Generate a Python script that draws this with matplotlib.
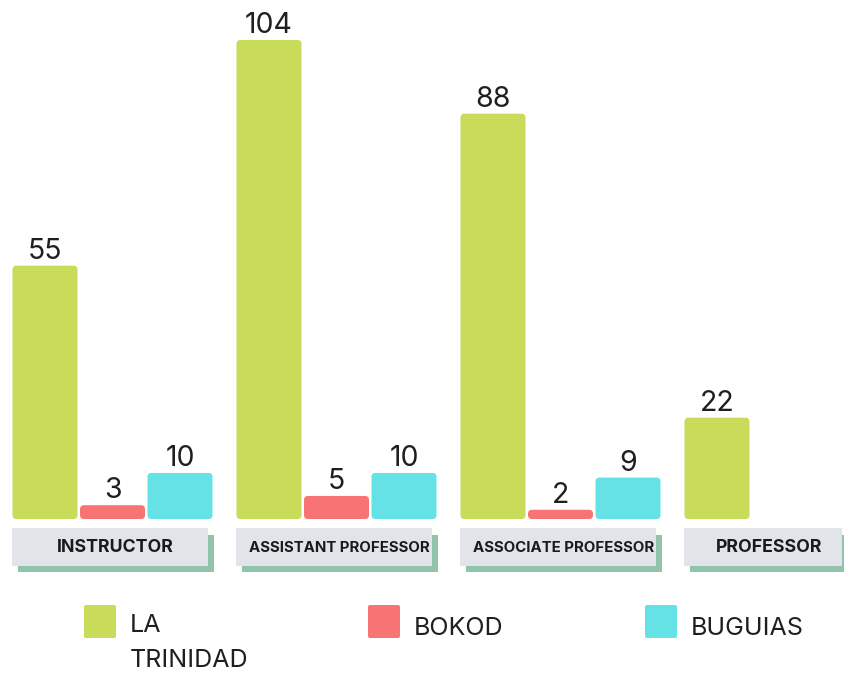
import matplotlib.pyplot as plt
from matplotlib.patches import FancyBboxPatch, Rectangle

categories = ['INSTRUCTOR', 'ASSISTANT PROFESSOR', 'ASSOCIATE PROFESSOR', 'PROFESSOR']
campuses = ['LA\nTRINIDAD', 'BOKOD', 'BUGUIAS']
la_trinidad = [55, 104, 88, 22]
bokod = [3, 5, 2, 0]
buguias = [10, 10, 9, 0]

colors = ['#c8dc5a', '#f87474', '#64e2e6']
plt.rcParams['font.family'] = ['Inter', 'DejaVu Sans']

W, H = 844, 674
fig = plt.figure(figsize=(W / 100, H / 100), dpi=100)
ax = fig.add_axes([0, 0, 1, 1])
ax.axis('off')

# scale: one x unit = one group (224 px), bars sit on a baseline 519 px from the top
xpx = 224.0
ypx = 4.606
x0 = 112.5
base = 519
ax.set_xlim(-x0 / xpx, (W - x0) / xpx)
ax.set_ylim(-(H - base) / ypx, base / ypx)

def ydat(py):
    return (base - py) / ypx

step = 67.5 / xpx
bw = 65 / xpx
series = [la_trinidad, bokod, buguias]
for j, vals in enumerate(series):
    xs = [i + (j - 1) * step for i in range(len(categories))]
    bars = ax.bar(xs, vals, bw, color=colors[j])
    for rect, v in zip(bars, vals):
        x, y = rect.get_xy()
        w, h = rect.get_width(), rect.get_height()
        rect.remove()
        if v == 0:
            continue
        ax.add_patch(FancyBboxPatch((x, y), w, h,
                                    boxstyle='round,pad=0,rounding_size=%f' % (4 / xpx),
                                    mutation_aspect=xpx / ypx,
                                    fc=colors[j], ec='none'))
        ax.text(x + w / 2, v + 7 / ypx, str(v), ha='center', va='baseline',
                fontsize=20.5, color='#1f1f1f')

# category label boxes with offset shadow
for i, name in enumerate(categories):
    cx = x0 + i * xpx
    left = cx - 101
    right = min(cx + 95, W - 2)
    ax.add_patch(Rectangle(((left + 6 - x0) / xpx, ydat(572)), (right - left) / xpx,
                           ydat(528) - ydat(565), fc='#92c3ab', ec='none'))
    ax.add_patch(Rectangle(((left - x0) / xpx, ydat(566)), (right - left) / xpx,
                           ydat(528) - ydat(566), fc='#e1e4e9', ec='none'))
    fs = 12.8 if len(name) < 12 else 10.8
    ax.text(((left + right) / 2 + 6 - x0) / xpx, ydat(548), name, ha='center',
            va='center', fontsize=fs, fontweight='bold', color='#1a1a1a')

# legend
leg_x = [84, 368, 645]
for j, name in enumerate(campuses):
    lx = leg_x[j]
    ax.add_patch(FancyBboxPatch(((lx - x0) / xpx, ydat(638)), 32 / xpx, 33 / ypx,
                                boxstyle='round,pad=0,rounding_size=%f' % (2 / xpx),
                                mutation_aspect=xpx / ypx,
                                fc=colors[j], ec='none', clip_on=False))
    nlines = name.count('\n')
    ax.text((lx + 46 - x0) / xpx, ydat(635 + 32 * nlines), name, ha='left',
            va='baseline', fontsize=18, color='#1f1f1f', linespacing=1.65)

fig.savefig('out.png', dpi=100)
